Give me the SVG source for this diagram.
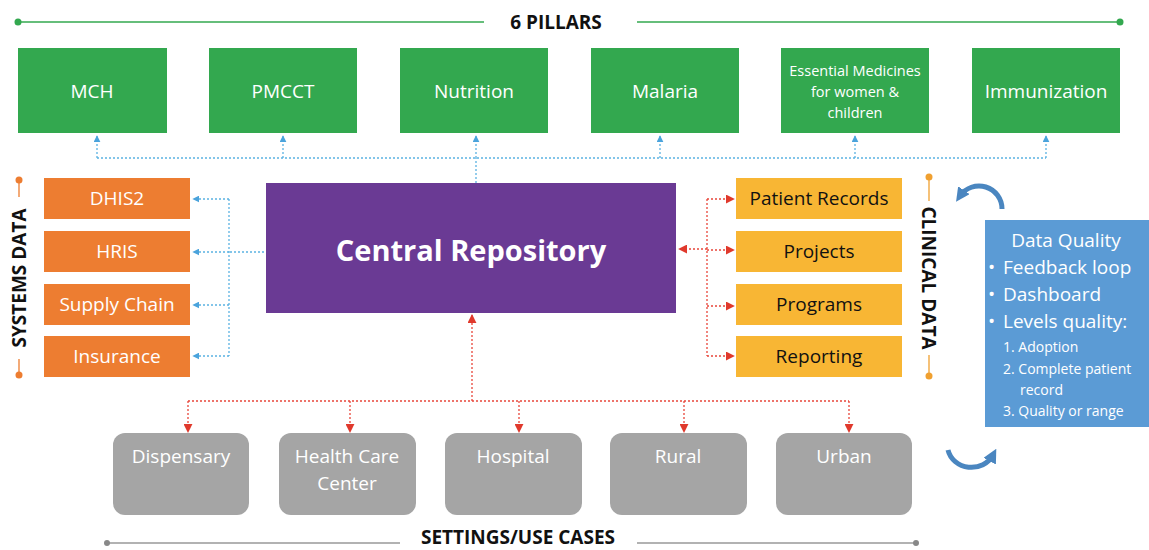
<svg xmlns="http://www.w3.org/2000/svg" width="1149" height="550" viewBox="0 0 1149 550">
<defs>
<style>
.t{font-family:"Open Sans","Liberation Sans",sans-serif;}
.pill{fill:#33a84f;}
.pt{fill:#fff;font-size:19px;text-anchor:middle;}
.sys{fill:#ed7d31;}
.clin{fill:#f8b634;}
.ct{fill:#111;font-size:19px;text-anchor:middle;}
.set{fill:#a5a5a5;}
.hdr{font-weight:bold;font-size:19px;fill:#111;text-anchor:middle;}
.blue{stroke:#5bb2e2;stroke-width:1.3;stroke-dasharray:2 2;fill:none;}
.red{stroke:#e8453a;stroke-width:1.3;stroke-dasharray:2 2;fill:none;}
.dq{fill:#fff;font-size:19px;}
.dqs{fill:#fff;font-size:14px;}
.loop{fill:none;stroke:#4a86c0;stroke-width:5;}
</style>
<marker id="ab" viewBox="0 0 10 10" refX="9" refY="5" markerWidth="7" markerHeight="7" markerUnits="userSpaceOnUse" orient="auto"><path d="M0,0 L10,5 L0,10 z" fill="#4aa3dc"/></marker>
<marker id="ar" viewBox="0 0 10 10" refX="9" refY="5" markerWidth="9" markerHeight="9" markerUnits="userSpaceOnUse" orient="auto"><path d="M0,0 L10,5 L0,10 z" fill="#e0392c"/></marker>
<marker id="al" viewBox="0 0 10 10" refX="5" refY="5" markerWidth="14" markerHeight="14" markerUnits="userSpaceOnUse" orient="auto"><path d="M0,0 L10,5 L0,10 z" fill="#4a86c0"/></marker>
</defs>
<rect width="1149" height="550" fill="#fff"/>

<g id="header-pillars">
<line x1="18" y1="22" x2="484" y2="22" stroke="#33a84f" stroke-width="1.3"/>
<line x1="637" y1="22" x2="1120" y2="22" stroke="#33a84f" stroke-width="1.3"/>
<circle cx="18" cy="22" r="3.5" fill="#33a84f"/>
<circle cx="1120" cy="22" r="3.5" fill="#33a84f"/>
<text class="t hdr" x="556" y="29">6 PILLARS</text>
</g>

<g id="connectors">
<path class="blue" d="M476,183 V158"/>
<path class="blue" d="M97,158 H1046"/>
<path class="blue" d="M97,158 V136" marker-end="url(#ab)"/>
<path class="blue" d="M283,158 V136" marker-end="url(#ab)"/>
<path class="blue" d="M476,158 V136" marker-end="url(#ab)"/>
<path class="blue" d="M660,158 V136" marker-end="url(#ab)"/>
<path class="blue" d="M855,158 V136" marker-end="url(#ab)"/>
<path class="blue" d="M1046,158 V136" marker-end="url(#ab)"/>
<path class="blue" d="M264,252 H229 M229,199 V356"/>
<path class="blue" d="M229,199 H193" marker-end="url(#ab)"/>
<path class="blue" d="M229,252 H193" marker-end="url(#ab)"/>
<path class="blue" d="M229,305 H193" marker-end="url(#ab)"/>
<path class="blue" d="M229,356 H193" marker-end="url(#ab)"/>
<path class="red" d="M707,249 H679" marker-end="url(#ar)"/>
<path class="red" d="M707,199 V356"/>
<path class="red" d="M707,199 H734" marker-end="url(#ar)"/>
<path class="red" d="M707,250 H734" marker-end="url(#ar)"/>
<path class="red" d="M707,306 H734" marker-end="url(#ar)"/>
<path class="red" d="M707,356 H734" marker-end="url(#ar)"/>
<path class="red" d="M472,401 V315" marker-end="url(#ar)"/>
<path class="red" d="M188,401 H849"/>
<path class="red" d="M188,401 V432" marker-end="url(#ar)"/>
<path class="red" d="M350,401 V432" marker-end="url(#ar)"/>
<path class="red" d="M519,401 V432" marker-end="url(#ar)"/>
<path class="red" d="M684,401 V432" marker-end="url(#ar)"/>
<path class="red" d="M849,401 V432" marker-end="url(#ar)"/>
</g>

<g id="pillar-mch"><rect class="pill" x="18" y="48" width="149" height="85"/><text class="t pt" x="92" y="98">MCH</text></g>
<g id="pillar-pmcct"><rect class="pill" x="209" y="48" width="148" height="85"/><text class="t pt" x="283" y="98">PMCCT</text></g>
<g id="pillar-nutrition"><rect class="pill" x="400" y="48" width="148" height="85"/><text class="t pt" x="474" y="98">Nutrition</text></g>
<g id="pillar-malaria"><rect class="pill" x="591" y="48" width="148" height="85"/><text class="t pt" x="665" y="98">Malaria</text></g>
<g id="pillar-essential"><rect class="pill" x="781" y="48" width="148" height="85"/>
<text class="t" x="855" y="76" fill="#fff" font-size="14.5" text-anchor="middle">Essential Medicines</text>
<text class="t" x="855" y="97" fill="#fff" font-size="14.5" text-anchor="middle">for women &amp;</text>
<text class="t" x="855" y="118" fill="#fff" font-size="14.5" text-anchor="middle">children</text></g>
<g id="pillar-immunization"><rect class="pill" x="972" y="48" width="148" height="85"/><text class="t pt" x="1046" y="98">Immunization</text></g>

<g id="central-repository"><rect x="266" y="183" width="410" height="130" fill="#6a3a94"/>
<text class="t" x="471" y="261" fill="#fff" font-size="29" font-weight="bold" text-anchor="middle">Central Repository</text></g>

<g id="systems-label">
<line x1="19" y1="180" x2="19" y2="197" stroke="#ed7d31" stroke-width="1.3"/>
<line x1="19" y1="359" x2="19" y2="375" stroke="#ed7d31" stroke-width="1.3"/>
<circle cx="19" cy="180" r="3.5" fill="#ed7d31"/>
<circle cx="19" cy="375" r="3.5" fill="#ed7d31"/>
<text class="t hdr" transform="translate(26,278) rotate(-90)" x="0" y="0">SYSTEMS DATA</text>
</g>
<g id="sys-dhis2"><rect class="sys" x="44" y="178" width="146" height="41"/><text class="t pt" x="117" y="205">DHIS2</text></g>
<g id="sys-hris"><rect class="sys" x="44" y="231" width="146" height="41"/><text class="t pt" x="117" y="258">HRIS</text></g>
<g id="sys-supply"><rect class="sys" x="44" y="284" width="146" height="41"/><text class="t pt" x="117" y="311">Supply Chain</text></g>
<g id="sys-insurance"><rect class="sys" x="44" y="336" width="146" height="41"/><text class="t pt" x="117" y="363">Insurance</text></g>

<g id="clinical-label">
<line x1="929" y1="177" x2="929" y2="201" stroke="#f0a030" stroke-width="1.3"/>
<line x1="929" y1="355" x2="929" y2="376" stroke="#f0a030" stroke-width="1.3"/>
<circle cx="929" cy="177" r="3.5" fill="#f0a030"/>
<circle cx="929" cy="376" r="3.5" fill="#f0a030"/>
<text class="t hdr" transform="translate(922,278) rotate(90)" x="0" y="0">CLINICAL DATA</text>
</g>
<g id="clin-patient"><rect class="clin" x="736" y="178" width="166" height="41"/><text class="t ct" x="819" y="205">Patient Records</text></g>
<g id="clin-projects"><rect class="clin" x="736" y="231" width="166" height="41"/><text class="t ct" x="819" y="258">Projects</text></g>
<g id="clin-programs"><rect class="clin" x="736" y="284" width="166" height="41"/><text class="t ct" x="819" y="311">Programs</text></g>
<g id="clin-reporting"><rect class="clin" x="736" y="336" width="166" height="41"/><text class="t ct" x="819" y="363">Reporting</text></g>

<g id="data-quality"><rect x="985" y="220" width="164" height="207" fill="#5b9bd5"/>
<text class="t dq" x="1066" y="247" text-anchor="middle">Data Quality</text>
<text class="t dq" x="988" y="274">•</text><text class="t dq" x="1003" y="274">Feedback loop</text>
<text class="t dq" x="988" y="301">•</text><text class="t dq" x="1003" y="301">Dashboard</text>
<text class="t dq" x="988" y="328">•</text><text class="t dq" x="1003" y="328">Levels quality:</text>
<text class="t dqs" x="1003" y="352">1. Adoption</text>
<text class="t dqs" x="1003" y="374">2. Complete patient</text>
<text class="t dqs" x="1020" y="395">record</text>
<text class="t dqs" x="1003" y="416">3. Quality or range</text>
</g>

<g id="loop-arrows">
<path class="loop" d="M1002,209 A23,23 0 0 0 960,196" marker-end="url(#al)"/>
<path class="loop" d="M948,450 A24,22 0 0 0 993,455" marker-end="url(#al)"/>
</g>

<g id="set-dispensary"><rect class="set" x="113" y="433" width="136" height="82" rx="12"/><text class="t pt" x="181" y="463">Dispensary</text></g>
<g id="set-hcc"><rect class="set" x="279" y="433" width="137" height="82" rx="12"/><text class="t pt" x="347" y="463">Health Care</text><text class="t pt" x="347" y="490">Center</text></g>
<g id="set-hospital"><rect class="set" x="445" y="433" width="137" height="82" rx="12"/><text class="t pt" x="513" y="463">Hospital</text></g>
<g id="set-rural"><rect class="set" x="610" y="433" width="137" height="82" rx="12"/><text class="t pt" x="678" y="463">Rural</text></g>
<g id="set-urban"><rect class="set" x="776" y="433" width="136" height="82" rx="12"/><text class="t pt" x="844" y="463">Urban</text></g>

<g id="footer-settings">
<line x1="107" y1="543" x2="400" y2="543" stroke="#999" stroke-width="1.3"/>
<line x1="637" y1="543" x2="916" y2="543" stroke="#999" stroke-width="1.3"/>
<circle cx="107" cy="543" r="3" fill="#888"/>
<circle cx="916" cy="543" r="3" fill="#888"/>
<text class="t hdr" x="518" y="544">SETTINGS/USE CASES</text>
</g>
</svg>
